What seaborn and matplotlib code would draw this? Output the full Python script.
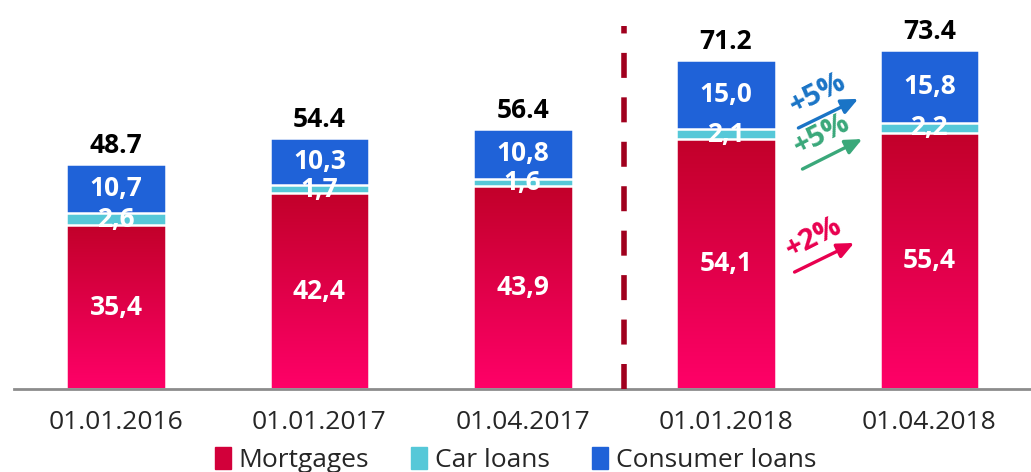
import numpy as np
import pandas as pd
import seaborn as sns
import matplotlib.pyplot as plt
from matplotlib.colors import LinearSegmentedColormap
from matplotlib.patches import Patch

# данные
dates = ['01.01.2016', '01.01.2017', '01.04.2017', '01.01.2018', '01.04.2018']
mortgages = [35.4, 42.4, 43.9, 54.1, 55.4]
car_loans = [2.6, 1.7, 1.6, 2.1, 2.2]
consumer_loans = [10.7, 10.3, 10.8, 15.0, 15.8]
totals = ['48.7', '54.4', '56.4', '71.2', '73.4']
growth = ['+5%', '+5%', '+2%']

sns.set_style('white')
plt.rcParams['font.family'] = ['Open Sans', 'DejaVu Sans']

df = pd.DataFrame({'date': dates, 'mort': mortgages, 'car': car_loans, 'cons': consumer_loans})
df['mort_car'] = df['mort'] + df['car']
df['total'] = df['mort_car'] + df['cons']

red_top, red_bot = '#C2002A', '#FF0068'
cyan = '#56C8D8'
blue = '#1F62D8'

fig = plt.figure(figsize=(10.31, 4.72), dpi=100)
ax = fig.add_axes([0.014, 0.176, 0.986, 0.824])

kw = dict(width=0.49, edgecolor='white', linewidth=1.8, saturation=1, ax=ax)
sns.barplot(data=df, x='date', y='total', color=blue, **kw)
sns.barplot(data=df, x='date', y='mort_car', color=cyan, **kw)
sns.barplot(data=df, x='date', y='mort', color=red_top, **kw)

# градиент для ипотеки
cmap = LinearSegmentedColormap.from_list('mg', [red_bot, red_top])
grad = np.linspace(0, 1, 256).reshape(-1, 1)
n = len(dates)
for p in ax.patches[2 * n:3 * n]:
    x0, y0, w, h = p.get_x(), p.get_y(), p.get_width(), p.get_height()
    im = ax.imshow(grad, extent=[x0, x0 + w, y0, y0 + h], origin='lower', cmap=cmap,
                   aspect='auto', zorder=p.get_zorder() + 0.1)
    im.set_clip_path(p)
    p.set_facecolor('none')
    p.set_zorder(p.get_zorder() + 0.2)

fs = 19
for i in range(n):
    ax.text(i, mortgages[i] / 2, f'{mortgages[i]:.1f}'.replace('.', ','), ha='center', va='center',
            color='white', fontsize=fs, fontweight='bold', zorder=5)
    ax.text(i, mortgages[i] + car_loans[i] / 2, f'{car_loans[i]:.1f}'.replace('.', ','), ha='center',
            va='center', color='white', fontsize=fs, fontweight='bold', zorder=5)
    ax.text(i, df['mort_car'][i] + consumer_loans[i] / 2, f'{consumer_loans[i]:.1f}'.replace('.', ','),
            ha='center', va='center', color='white', fontsize=fs, fontweight='bold', zorder=5)
    ax.text(i, df['total'][i] + 1.0, totals[i], ha='center', va='bottom', color='black',
            fontsize=fs, fontweight='bold', zorder=5)

# разделитель
ax.plot([2.5, 2.5], [0, 78.6], color='#A0001E', lw=4, ls=(0, (4.5, 3.5)), zorder=6, clip_on=False)

# стрелки роста: (подпись, цвет, x0, y0, x1, y1)
arr = [(growth[0], '#1A74C6', 3.356, 56.5, 3.65, 62.8),
       (growth[1], '#3AA87A', 3.376, 47.6, 3.67, 54.1),
       (growth[2], '#E8004F', 3.337, 25.3, 3.63, 31.6)]
for txt, c, xa, ya, xb, yb in arr:
    ax.annotate('', xy=(xb, yb), xytext=(xa, ya),
                arrowprops=dict(arrowstyle='-|>,head_length=1.0,head_width=0.45', color=c, lw=2.4,
                                shrinkA=0, shrinkB=0))
    ax.text((xa + xb) / 2 - 0.02, (ya + yb) / 2 + 1.4, txt, color=c, fontsize=21, fontweight='bold',
            rotation=27, ha='center', va='bottom', rotation_mode='anchor')

ax.set_ylim(0, 84.2)
ax.set_xlim(-0.5, 4.446)
ax.set_yticks([])
ax.set_xlabel('')
ax.set_ylabel('')
for s in ['top', 'right', 'left']:
    ax.spines[s].set_visible(False)
ax.spines['bottom'].set_color('#8C8C8C')
ax.spines['bottom'].set_linewidth(2)
ax.set_xticks(np.arange(-0.5, n, 1), minor=True)
ax.tick_params(axis='x', which='major', length=0, labelsize=fs, pad=15)
ax.tick_params(axis='x', which='minor', length=8, width=2, color='#8C8C8C', direction='out')

handles = [Patch(color='#D2003A', label='Mortgages'), Patch(color=cyan, label='Car loans'),
           Patch(color=blue, label='Consumer loans')]
fig.legend(handles=handles, loc='lower center', bbox_to_anchor=(0.5, -0.052), ncol=3, frameon=False,
           fontsize=fs, handlelength=0.6, handleheight=0.9, handletextpad=0.3, columnspacing=1.6)

plt.savefig('out.png', dpi=100)
plt.close()
